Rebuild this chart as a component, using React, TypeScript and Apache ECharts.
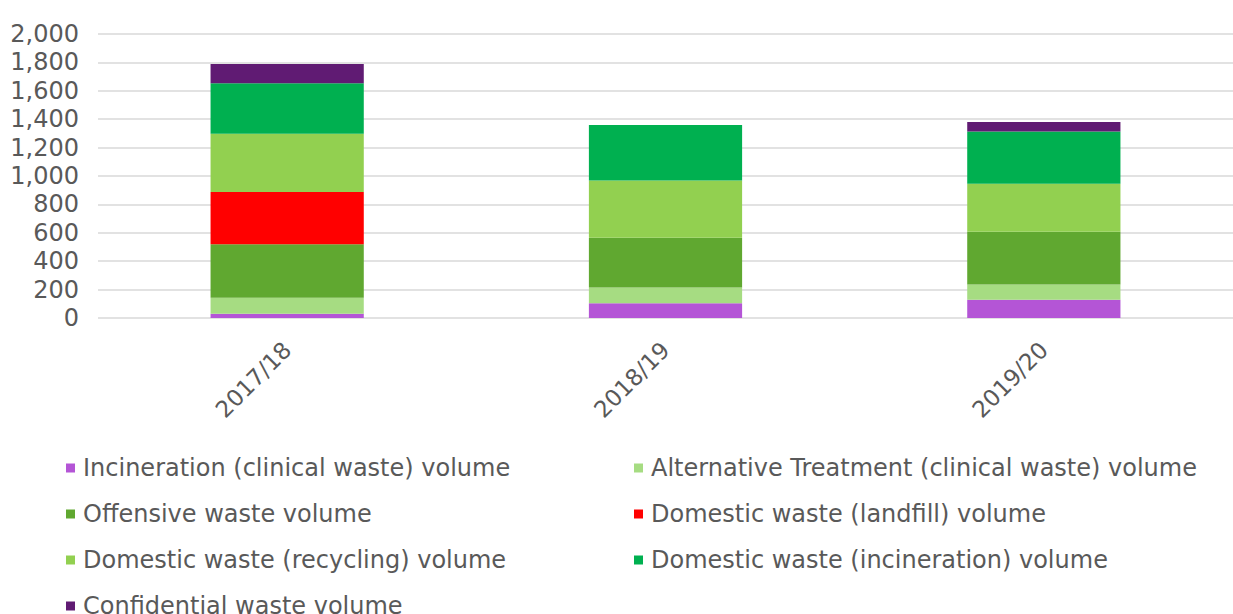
import React, { useEffect, useRef } from "react";
import * as echarts from "echarts";

const categories = ["2017/18", "2018/19", "2019/20"];
const seriesNames = [
  "Incineration (clinical waste) volume",
  "Alternative Treatment (clinical waste) volume",
  "Offensive waste volume",
  "Domestic waste (landfill) volume",
  "Domestic waste (recycling) volume",
  "Domestic waste (incineration) volume",
  "Confidential waste volume",
];
const incinerationClinical = [30, 104, 128];
const alternativeTreatment = [112, 111, 108];
const offensiveWaste = [378, 351, 371];
const domesticLandfill = [367, 0, 0];
const domesticRecycling = [411, 402, 339];
const domesticIncineration = [356, 392, 367];
const confidentialWaste = [134, 0, 68];
const colors = ["#b455d6", "#a6dc82", "#60a830", "#ff0000", "#92d050", "#00b050", "#601b73"];
const yTicks = [0, 2000, 200]; // min, max, interval

const FONT = "'DejaVu Sans', sans-serif";

export default function App() {
  const ref = useRef<HTMLDivElement>(null);
  useEffect(() => {
    if (!ref.current) return;
    const chart = echarts.init(ref.current, undefined, { renderer: "svg" });
    const values = [
      incinerationClinical,
      alternativeTreatment,
      offensiveWaste,
      domesticLandfill,
      domesticRecycling,
      domesticIncineration,
      confidentialWaste,
    ];
    const legendCommon = {
      orient: "vertical" as const,
      top: 454,
      height: 220,
      padding: 0,
      itemWidth: 9,
      itemHeight: 9,
      itemGap: 18,
      icon: "rect",
      textStyle: {
        fontSize: 24,
        color: "#595959",
        fontFamily: FONT,
        lineHeight: 28,
        padding: [0, 0, 0, 3],
      },
    };
    chart.setOption({
      animation: false,
      color: colors,
      grid: { left: 98, right: -11, top: 34, bottom: 296, containLabel: false },
      legend: [
        { ...legendCommon, left: 66, data: [seriesNames[0], seriesNames[2], seriesNames[4], seriesNames[6]] },
        { ...legendCommon, left: 634, data: [seriesNames[1], seriesNames[3], seriesNames[5]] },
      ],
      xAxis: {
        type: "category",
        data: categories,
        axisLine: { show: false },
        axisTick: { show: false },
        axisLabel: {
          rotate: 45,
          margin: 28,
          fontSize: 23,
          color: "#595959",
          fontFamily: FONT,
        },
      },
      yAxis: {
        type: "value",
        min: yTicks[0],
        max: yTicks[1],
        interval: yTicks[2],
        axisLine: { show: false },
        axisTick: { show: false },
        splitLine: { lineStyle: { color: "#d9d9d9", width: 1.5 } },
        axisLabel: {
          margin: 19,
          fontSize: 24,
          color: "#595959",
          fontFamily: FONT,
          formatter: (v: number) => v.toLocaleString("en-US"),
        },
      },
      series: seriesNames.map((name, i) => ({
        name,
        type: "bar",
        stack: "total",
        barWidth: "40.5%",
        data: values[i],
        itemStyle: { color: colors[i] },
      })),
    });
    return () => chart.dispose();
  }, []);
  return (
    <div
      ref={ref}
      style={{ position: "absolute", left: 0, top: 0, width: 1233, height: 614, background: "#fff" }}
    />
  );
}
